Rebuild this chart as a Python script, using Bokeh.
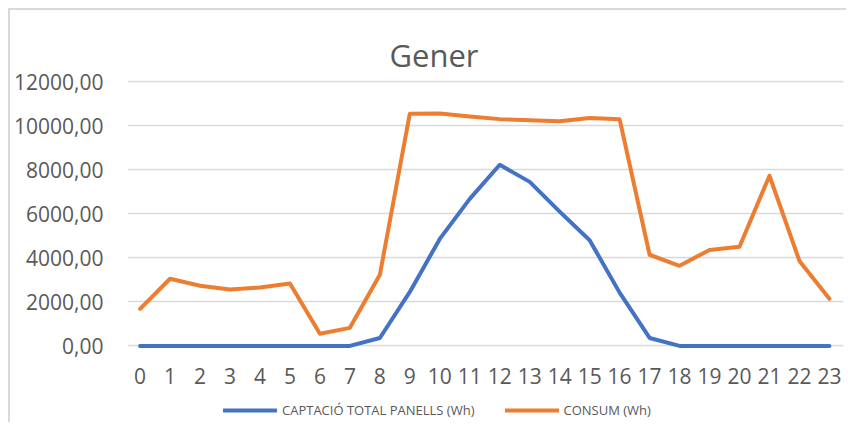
from bokeh.plotting import figure
from bokeh.models import (FixedTicker, CustomJSTickFormatter, Legend, LegendItem, Range1d)
from bokeh.core.properties import value
from bokeh.embed import file_html
from bokeh.resources import INLINE

hours = list(range(24))
hour_labels = [str(h) for h in hours]
captacio = [0, 0, 0, 0, 0, 0, 0, 0, 360, 2450, 4860, 6680, 8230, 7450, 6100, 4800,
            2420, 360, 0, 0, 0, 0, 0, 0]
consum = [1680, 3050, 2730, 2560, 2650, 2830, 550, 820, 3230, 10550, 10560, 10420,
          10300, 10250, 10200, 10350, 10300, 4140, 3640, 4360, 4500, 7730, 3860, 2140]
series_names = ["CAPTACIÓ TOTAL PANELLS (Wh)", "CONSUM (Wh)"]
y_ticks = [0, 2000, 4000, 6000, 8000, 10000, 12000]
title_text = "Gener"

BLUE = "#4472C4"
ORANGE = "#ED7D31"
TXT = "#595959"
FONT = "Open Sans"

# frame reaches the bottom of the canvas so the legend and hour labels sit inside it
p = figure(width=838, height=414, output_backend="svg", toolbar_location=None,
           x_range=Range1d(-0.42, 23.47), y_range=Range1d(-3570, 12100),
           x_axis_location=None,
           min_border_left=117, min_border_right=5, min_border_top=69, min_border_bottom=0)
p.styles = {"margin-left": "8px", "margin-top": "8px",
            "border-left": "2px solid #d9d9d9", "border-top": "2px solid #d9d9d9"}
p.outline_line_color = None
p.background_fill_color = "white"
p.border_fill_color = "white"

r1 = p.line(hours, captacio, line_color=BLUE, line_width=4, line_join="round", line_cap="round")
r2 = p.line(hours, consum, line_color=ORANGE, line_width=4, line_join="round", line_cap="round")

# hour labels under the zero line
p.text(x=hours, y=[0] * len(hours), text=hour_labels, y_offset=30,
       text_align="center", text_baseline="alphabetic",
       text_font=value(FONT), text_font_size=value("21px"), text_color=TXT)

p.xgrid.grid_line_color = None
p.ygrid.grid_line_color = "#d9d9d9"
p.ygrid.grid_line_width = 1.5
p.yaxis.ticker = FixedTicker(ticks=y_ticks)
p.yaxis.formatter = CustomJSTickFormatter(code="return tick.toFixed(2).replace('.', ',');")

ax = p.yaxis[0]
ax.axis_line_color = None
ax.major_tick_line_color = None
ax.minor_tick_line_color = None
ax.major_tick_out = 0
ax.major_tick_in = 0
ax.major_label_text_font = FONT
ax.major_label_text_font_size = "21px"
ax.major_label_text_color = TXT
ax.major_label_standoff = 24

p.title.text = title_text
p.title.align = "left"
p.title.offset = 262
p.title.text_font = FONT
p.title.text_font_size = "31px"
p.title.text_font_style = "normal"
p.title.text_color = TXT
p.title.standoff = 7

legend = Legend(items=[LegendItem(label=series_names[0], renderers=[r1]),
                       LegendItem(label=series_names[1], renderers=[r2])],
                location=(96, 4), orientation="horizontal",
                glyph_width=54, glyph_height=20, label_height=20, label_standoff=5,
                spacing=30, padding=0, margin=0,
                label_text_font=FONT, label_text_font_size="13px", label_text_color=TXT,
                border_line_color=None, background_fill_alpha=0)
p.add_layout(legend)

open("out.html", "w").write(file_html(p, INLINE))
